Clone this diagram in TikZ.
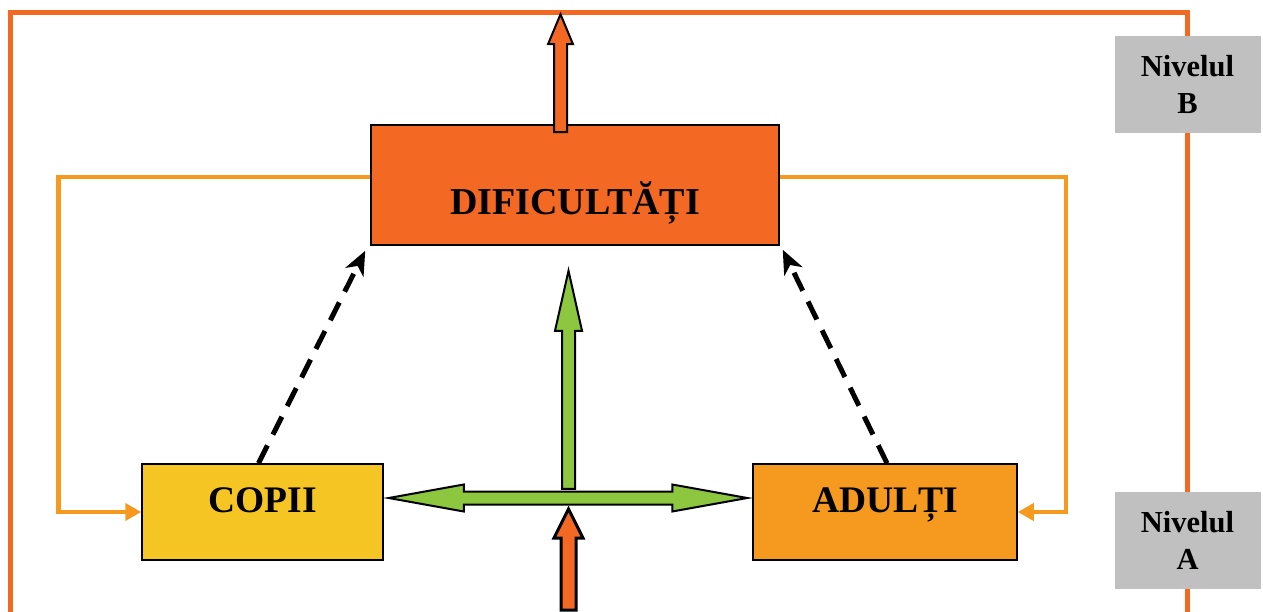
\documentclass[tikz,border=0pt]{standalone}
\usepackage{fontspec}
\setmainfont{Liberation Serif}
\usetikzlibrary{calc,arrows.meta}
\definecolor{redorange}{RGB}{243,104,34}
\definecolor{lightorange}{RGB}{246,153,31}
\definecolor{boxyellow}{RGB}{245,197,35}
\definecolor{boxgreen}{RGB}{141,198,63}
\definecolor{levelgray}{RGB}{192,192,192}
\begin{document}
\begin{tikzpicture}[x=1pt,y=-1pt,
  box/.style={draw=black, line width=1.5pt, rectangle, inner sep=0pt},
  boxlabel/.style={anchor=base, inner sep=0pt, font=\bfseries\fontsize{37.5}{44}\selectfont},
  level/.style={fill=levelgray, minimum width=146pt, minimum height=97pt, inner sep=0pt,
    align=center, font=\bfseries\fontsize{30.5}{37}\selectfont},
  frame/.style={draw=redorange, line width=5pt},
  feedback/.style={draw=lightorange, line width=4.5pt, -{Triangle[length=16pt,width=17pt]}},
  influence/.style={draw=black, line width=5pt, dash pattern=on 20pt off 12pt,
    -{Stealth[length=24pt,width=20pt,inset=7pt]}},
  blockarrow/.style={draw=black, line width=2pt}
]
\useasboundingbox (0,0) rectangle (1263,612);

% outer frame
\draw[frame] (10,620) -- (10,13) -- (1187,13) -- (1187,620);

% level labels on the right
\node[level] (nivB) at (1187.5,84.5) {Nivelul\\B};
\node[level] (nivA) at (1187.5,540.5) {Nivelul\\A};

% main boxes
\node[box, fill=redorange, minimum width=408pt, minimum height=120pt] (dif) at (575,185) {};
\node[box, fill=boxyellow, minimum width=241pt, minimum height=96pt] (copii) at (262.5,512) {};
\node[box, fill=lightorange, minimum width=264pt, minimum height=96pt] (adulti) at (885,512) {};

\node[boxlabel, font=\bfseries\fontsize{38}{44}\selectfont] (difl) at ($(dif.center)+(0,30)$) {DIFICULTĂȚI};
\node[boxlabel] (copiil) at (copii.center) {COPII};
\node[boxlabel] (adultil) at (adulti.center) {ADULȚI};

% feedback loops
\draw[feedback] ($(dif.west)+(0,-8)$) -- ++(-312,0) |- (copii.west);
\draw[feedback] ($(dif.east)+(0,-8)$) -- ++(286,0) |- (adulti.east);

% dashed influences
\draw[influence] ($(copii.north)+(-4,0)$) -- ($(dif.south west)+(-5,5)$);
\draw[influence] ($(adulti.north)+(2,0)$) -- ($(dif.south east)+(3,4)$);

% green double arrow between the boxes
\coordinate (gl) at ($(copii.east)+(5,-14)$);
\coordinate (gr) at ($(adulti.west)+(-5,-14)$);
\filldraw[blockarrow, fill=boxgreen] (gl) -- ($(gl)+(75,-13.5)$) -- ($(gl)+(75,-6.5)$)
  -- ($(gr)+(-75,-6.5)$) -- ($(gr)+(-75,-13.5)$) -- (gr) -- ($(gr)+(-75,13.5)$)
  -- ($(gr)+(-75,6.5)$) -- ($(gl)+(75,6.5)$) -- ($(gl)+(75,13.5)$) -- cycle;

% green arrow up towards the difficulties
\coordinate (gvt) at ($(dif.south)+(-6.5,25)$);
\filldraw[blockarrow, fill=boxgreen] (gvt) -- ++(13.5,60) -- ++(-7,0) -- ++(0,158)
  -- ++(-13,0) -- ++(0,-158) -- ++(-7,0) -- cycle;

% orange input arrow from below
\coordinate (rbt) at (568.5,509);
\filldraw[blockarrow, line width=3pt, fill=redorange] (rbt) -- ++(14.5,29) -- ++(-7,0)
  -- ++(0,72) -- ++(-15,0) -- ++(0,-72) -- ++(-7,0) -- cycle;

% orange output arrow to the upper level
\coordinate (rtt) at ($(dif.north)+(-14.5,-110)$);
\filldraw[blockarrow, fill=redorange] (rtt) -- ++(12.5,30) -- ++(-6,0) -- ++(0,88)
  -- ++(-13,0) -- ++(0,-88) -- ++(-6,0) -- cycle;
\end{tikzpicture}
\end{document}
